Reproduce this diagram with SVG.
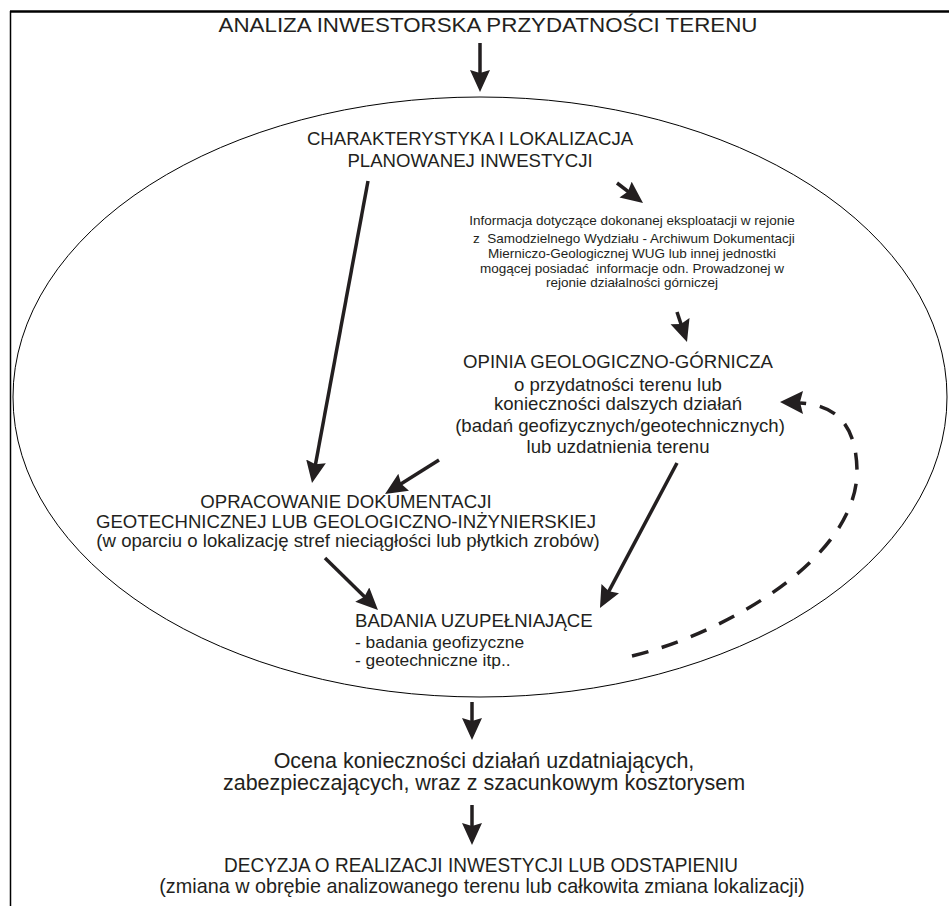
<svg xmlns="http://www.w3.org/2000/svg" width="949" height="906" viewBox="0 0 949 906">
<style>
text{font-family:"Liberation Sans",Arial,sans-serif;fill:#231f20}
.m{text-anchor:middle}
.f18{font-size:18.6px}
.f17{font-size:17.4px}
.f13{font-size:13.5px}
.f21{font-size:21.5px}
.shaft{stroke:#231f20;stroke-width:3.5;fill:none;marker-end:url(#ah)}
.dash{stroke:#231f20;stroke-width:3.5;fill:none;stroke-dasharray:17 14}
</style>
<defs>
<marker id="ah" markerUnits="userSpaceOnUse" markerWidth="24" markerHeight="22" refX="10" refY="10" orient="auto" viewBox="0 0 24 22">
<path d="M0,0 L22,10 L0,20 L3,10 z" fill="#231f20"/>
</marker>
</defs>
<rect width="949" height="906" fill="#fff"/>
<g id="frame" stroke="#000" fill="none">
<line x1="10" y1="11.5" x2="949" y2="11.5" stroke-width="2.5"/>
<line x1="10.5" y1="11" x2="10.5" y2="906" stroke-width="1.5"/>
</g>
<g id="scope">
<ellipse cx="480" cy="397" rx="467" ry="300" fill="none" stroke="#000" stroke-width="1"/>
</g>
<g id="n-title"><text class="m" x="488" y="32" font-size="20" textLength="539" lengthAdjust="spacingAndGlyphs">ANALIZA INWESTORSKA PRZYDATNOŚCI TERENU</text></g>
<g id="n-char" class="f18">
<text class="m" x="470" y="145">CHARAKTERYSTYKA I LOKALIZACJA</text>
<text class="m" x="470" y="167">PLANOWANEJ INWESTYCJI</text>
</g>
<g id="n-info" class="f13">
<text class="m" x="632" y="225">Informacja dotyczące dokonanej eksploatacji w rejonie</text>
<text class="m" x="632" y="243" xml:space="preserve"> z  Samodzielnego Wydziału - Archiwum Dokumentacji</text>
<text class="m" x="632" y="258">Mierniczo-Geologicznej WUG lub innej jednostki</text>
<text class="m" x="632" y="273" xml:space="preserve">mogącej posiadać  informacje odn. Prowadzonej w</text>
<text class="m" x="632" y="287">rejonie działalności górniczej</text>
</g>
<g id="n-opinia" class="f18">
<text class="m" x="618" y="368">OPINIA GEOLOGICZNO-GÓRNICZA</text>
<text class="m" x="618" y="391">o przydatności terenu lub</text>
<text class="m" x="618" y="410">konieczności dalszych działań</text>
<text class="m" x="620" y="432">(badań geofizycznych/geotechnicznych)</text>
<text class="m" x="618" y="453">lub uzdatnienia terenu</text>
</g>
<g id="n-oprac" class="f18">
<text class="m" x="346" y="508">OPRACOWANIE DOKUMENTACJI</text>
<text class="m" x="346" y="528">GEOTECHNICZNEJ LUB GEOLOGICZNO-INŻYNIERSKIEJ</text>
<text class="m" x="348" y="547">(w oparciu o lokalizację stref nieciągłości lub płytkich zrobów)</text>
</g>
<g id="n-badania">
<text class="f18" x="355" y="627">BADANIA UZUPEŁNIAJĄCE</text>
<text class="f17" x="355" y="648">- badania geofizyczne</text>
<text class="f17" x="355" y="666">- geotechniczne itp..</text>
</g>
<g id="n-ocena" class="f21">
<text class="m" x="484" y="768">Ocena konieczności działań uzdatniających,</text>
<text class="m" x="484" y="790">zabezpieczających, wraz z szacunkowym kosztorysem</text>
</g>
<g id="n-decyzja">
<text class="m" x="481" y="872" font-size="19.5" textLength="514" lengthAdjust="spacingAndGlyphs">DECYZJA O REALIZACJI INWESTYCJI LUB ODSTAPIENIU</text>
<text class="m" x="482" y="893" font-size="19.8">(zmiana w obrębie analizowanego terenu lub całkowita zmiana lokalizacji)</text>
</g>
<g id="connectors">
<line class="shaft" x1="480" y1="43" x2="480" y2="80"/>
<line class="shaft" x1="368" y1="181" x2="314.2" y2="471.2"/>
<line class="shaft" x1="617" y1="183" x2="633.5" y2="195.7"/>
<line class="shaft" x1="677" y1="312" x2="683.2" y2="330.6"/>
<line class="shaft" x1="439" y1="460" x2="395.2" y2="487.6"/>
<line class="shaft" x1="677" y1="463" x2="605.6" y2="597.4"/>
<line class="shaft" x1="325" y1="558" x2="369.4" y2="601.6"/>
<line class="shaft" x1="472" y1="702" x2="472" y2="728"/>
<line class="shaft" x1="472" y1="805" x2="472" y2="833"/>
<path class="dash" d="M632,656 C720,635 858,560 857,470 C856,420 832,405 800,403"/>
<path d="M780,402 L803,391 L800,402 L803,414 z" fill="#231f20"/>
</g>
</svg>
